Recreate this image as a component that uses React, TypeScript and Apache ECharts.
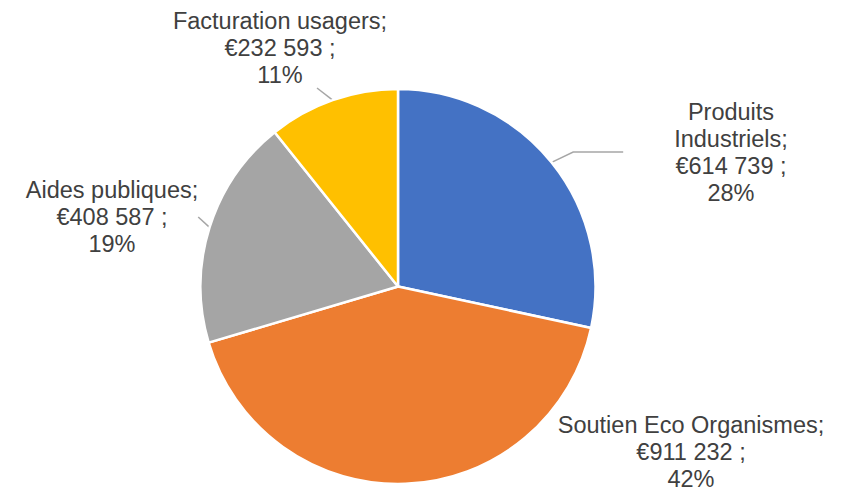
import React, { useEffect, useRef } from "react";
import * as echarts from "echarts";

// Funding sources (€) and slice colours
const categories = [
  "Produits\nIndustriels",
  "Soutien Eco Organismes",
  "Aides publiques",
  "Facturation usagers",
];
const amounts = [614739, 911232, 408587, 232593];
const colors = ["#4472C4", "#ED7D31", "#A5A5A5", "#FFC000"];

// Label placement: anchor point, box padding, leader line
const labelPlacement = [
  { x: 705.5, y: 152, padding: [0, 0, 0, 51], line: true, length2: 50 },
  { x: 691, y: 452, padding: [0, 0, 0, 0], line: false, length2: 0 },
  { x: 112, y: 217, padding: [0, 0, 0, 0], line: true, length2: 0 },
  { x: 317, y: 47.5, padding: [0, 74, 0, 0], line: true, length2: 0 },
];

const formatEuro = (v: number) =>
  v.toString().replace(/\B(?=(\d{3})+(?!\d))/g, " ");

export default function App() {
  const ref = useRef<HTMLDivElement>(null);

  useEffect(() => {
    if (!ref.current) return;
    const chart = echarts.init(ref.current, null, { renderer: "svg" });

    const data = categories.map((name, i) => ({
      name,
      value: amounts[i],
      itemStyle: { color: colors[i] },
      label: { padding: labelPlacement[i].padding },
      labelLine: {
        show: labelPlacement[i].line,
        length2: labelPlacement[i].length2,
      },
    }));

    chart.setOption({
      animation: false,
      backgroundColor: "#ffffff",
      series: [
        {
          type: "pie",
          center: [398, 286.5],
          radius: 197.5,
          startAngle: 90,
          clockwise: true,
          avoidLabelOverlap: false,
          percentPrecision: 0,
          itemStyle: { borderColor: "#ffffff", borderWidth: 2.5 },
          label: {
            show: true,
            position: "outside",
            color: "#404040",
            fontFamily: "'Liberation Sans', Arial, sans-serif",
            fontSize: 23.5,
            lineHeight: 27,
            backgroundColor: "rgba(255,255,255,0)",
            formatter: (p: any) =>
              `${p.name};\n€${formatEuro(p.value)} ;\n${p.percent}%`,
          },
          labelLine: {
            show: true,
            length: 10,
            lineStyle: { color: "#A6A6A6", width: 1.5 },
          },
          labelLayout: (params: any) => {
            const pl = labelPlacement[params.dataIndex];
            return {
              x: pl.x,
              y: pl.y,
              align: "center",
              verticalAlign: "middle",
            };
          },
          data,
        },
      ],
    });

    return () => chart.dispose();
  }, []);

  return (
    <div
      ref={ref}
      style={{ position: "fixed", left: 0, top: 0, width: 849, height: 491 }}
    />
  );
}
